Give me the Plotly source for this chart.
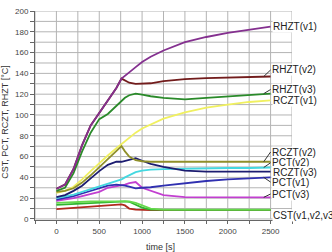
import plotly.graph_objects as go

# time axis [s]
T = [0, 100, 200, 300, 400, 500, 600, 700, 760, 800, 850, 925, 1000, 1100, 1250, 1500, 1750, 2000, 2250, 2500]

RHZT_v1 = [29, 33, 48, 71, 90, 102, 114, 126, 135, 138, 141, 146, 151, 156, 162, 170, 175, 179, 182, 185]
RHZT_v2 = [29, 33, 48, 71, 90, 102, 114, 126, 135, 133, 131, 130, 130, 130.5, 132.5, 134.5, 135.5, 136, 136.5, 137]
RHZT_v3 = [27, 30, 44, 65, 83, 96, 101, 109, 114, 116.5, 119, 120.5, 119.5, 118, 116.5, 115, 116.5, 118, 119.5, 120.5]
RCZT_v1 = [25, 27, 31, 38, 46, 54, 61, 68, 72, 75, 78.5, 83, 87, 91, 96.5, 102.5, 107, 110, 112.5, 114]
RCZT_v2 = [26, 27, 29.5, 35, 42, 50, 58, 65, 70, 65, 60, 56.5, 55.5, 55, 55, 55, 55, 54.5, 55, 55]
RCZT_v3 = [21, 23, 27, 32, 39, 46, 52, 55, 55, 56, 57, 58.5, 56, 53, 50, 46.5, 45.5, 45.5, 45.5, 45.5]
PCT_v2 = [20, 21.5, 23.5, 26, 28.5, 31, 34, 36.5, 38, 40, 42, 45, 46.5, 47.5, 48, 48.5, 48.5, 49, 49, 49.5]
PCT_v1 = [18.5, 20, 22, 24.5, 27, 29.5, 32, 33, 32.5, 32, 31, 29.5, 30, 30.5, 32, 34.5, 36.5, 38, 39, 40]
PCT_v3 = [17.5, 18.5, 20, 22, 24, 26, 30, 31.5, 32, 33, 34.5, 35.5, 30, 27, 23, 21, 21, 20.8, 20.8, 20.8]
CST_v1 = [9.5, 10, 10.5, 11.5, 12, 12.5, 13, 13.5, 14, 13, 10, 9, 8.7, 8.5, 8.5, 8.5, 8.5, 8.5, 8.5, 8.5]
CST_v2 = [13.5, 14, 14.5, 15, 15.5, 16, 16.5, 17, 17, 17, 16.5, 14, 11, 9, 8.7, 8.7, 8.7, 8.7, 8.7, 8.7]
CST_v3 = [15.5, 16, 16.2, 16.5, 16.8, 17, 17.2, 17.4, 17.5, 17.5, 17, 15.5, 13, 10, 9, 9, 9, 9, 9, 9]

# axis ticks (gridlines at every tick, labels on every other one)
X_TICKS = [-250, 0, 250, 500, 750, 1000, 1250, 1500, 1750, 2000, 2250, 2500, 2750]
X_LABELS = ["", "0", "", "500", "", "1000", "", "1500", "", "2000", "", "2500", ""]
Y_TICKS = list(range(0, 201, 10))
Y_LABELS = [str(v) if v % 20 == 0 else "" for v in Y_TICKS]

X_RANGE = [-250, 2750]
Y_RANGE = [-1, 200]

series = [
    ("CST(v1)", CST_v1, "#b02a1e"),
    ("CST(v2)", CST_v2, "#2fb52f"),
    ("CST(v3)", CST_v3, "#66d94c"),
    ("PCT(v3)", PCT_v3, "#c23fd0"),
    ("PCT(v1)", PCT_v1, "#3030b0"),
    ("PCT(v2)", PCT_v2, "#44d8e0"),
    ("RCZT(v3)", RCZT_v3, "#1c1c70"),
    ("RCZT(v1)", RCZT_v1, "#f0f060"),
    ("RCZT(v2)", RCZT_v2, "#8f8f2a"),
    ("RHZT(v3)", RHZT_v3, "#2a8a2a"),
    ("RHZT(v2)", RHZT_v2, "#721c1c"),
    ("RHZT(v1)", RHZT_v1, "#84308f"),
]

# label text, curve value at leader start (None = no leader), label value
labels = [
    ("RHZT(v1)", None, 185),
    ("RHZT(v2)", 137, 143.3),
    ("RHZT(v3)", 120.5, 124.5),
    ("RCZT(v1)", None, 114),
    ("RCZT(v2)", 55, 64.4),
    ("PCT(v2)", 49.5, 54),
    ("RCZT(v3)", None, 45),
    ("PCT(v1)", 40, 35.5),
    ("PCT(v3)", 20.8, 24),
    ("CST(v1,v2,v3)", None, 3.8),
]

fig = go.Figure()

# grid as a background line trace built from the tick arrays
grid = "#b4b4b4"
gx, gy = [], []
for v in X_TICKS:
    gx += [v, v, None]
    gy += [0, Y_RANGE[1], None]
for v in Y_TICKS:
    gx += [X_RANGE[0], X_RANGE[1], None]
    gy += [v, v, None]
fig.add_trace(go.Scatter(x=gx, y=gy, mode="lines", line=dict(color=grid, width=1),
                         hoverinfo="skip", showlegend=False, cliponaxis=False))

for name, vals, col in series:
    fig.add_trace(go.Scatter(x=T, y=vals, mode="lines", name=name,
                             line=dict(color=col, width=1.8)))

lab_font = dict(family="Liberation Sans, Arial", size=10, color="#222")
for text, head, lv in labels:
    if head is None:
        fig.add_annotation(x=2500, y=lv, text=text, showarrow=False, xanchor="left",
                           yanchor="middle", xshift=1, font=lab_font, bgcolor="white", borderpad=0)
    else:
        fig.add_annotation(x=2420, y=head, ax=2500, ay=lv, axref="x", ayref="y",
                           text=text, showarrow=True, arrowhead=0, arrowwidth=1,
                           arrowcolor="#333", standoff=0, xanchor="left", yanchor="middle",
                           font=lab_font, bgcolor="white", borderpad=0)

axis_font = dict(family="Liberation Sans, Arial", size=8, color="#444")
xaxis = dict(range=X_RANGE, tickmode="array", tickvals=X_TICKS, ticktext=X_LABELS,
             showgrid=False, showline=True, linecolor="#666", linewidth=1, ticks="outside",
             ticklen=3, tickcolor="#666", tickfont=axis_font, zeroline=False)
yaxis = dict(range=Y_RANGE, tickmode="array", tickvals=Y_TICKS, ticktext=Y_LABELS,
             showgrid=False, showline=True, linecolor="#666", linewidth=1, ticks="outside",
             ticklen=4, tickcolor="#666", tickfont=axis_font, zeroline=False)

title_font = dict(family="Liberation Sans, Arial", size=9, color="#333")
fig.add_annotation(text="time [s]", xref="paper", yref="paper", x=0.487, y=-0.128,
                   showarrow=False, xanchor="center", yanchor="middle", font=title_font)
fig.add_annotation(text="CST, PCT, RCZT, RHZT [°C]", xref="paper", yref="paper", x=-0.117, y=0.47,
                   showarrow=False, textangle=-90, xanchor="center", yanchor="middle", font=title_font)

fig.update_layout(template="none", width=332, height=252, margin=dict(l=35, r=40, t=11, b=32),
                  paper_bgcolor="white", plot_bgcolor="white", showlegend=False,
                  xaxis=xaxis, yaxis=yaxis)

fig.write_html("out.html")
